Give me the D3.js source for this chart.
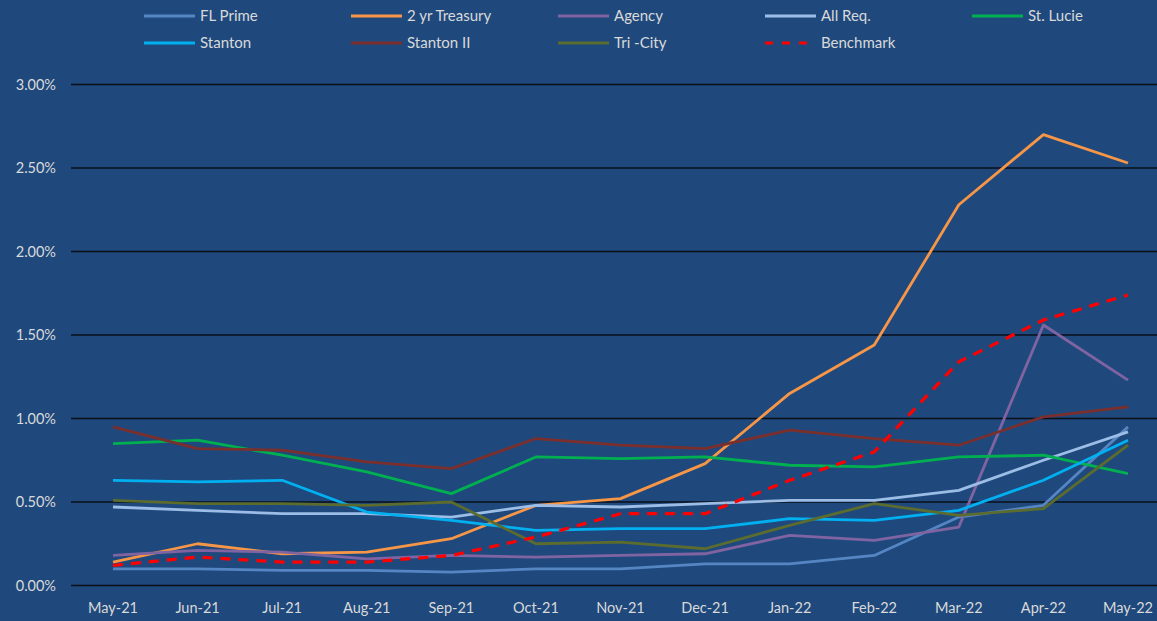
<!DOCTYPE html>
<html>
<head>
<meta charset="utf-8">
<script src="https://cdn.jsdelivr.net/npm/d3@7"></script>
<style>
  body { margin: 0; background: #1f497d; }
  svg { display: block; }
  text { font-family: Lato, "Open Sans", sans-serif; fill: #d9d9d9; }
</style>
</head>
<body>
<svg id="chart" width="1157" height="621"></svg>
<script>
// Month labels
var months = ["May-21","Jun-21","Jul-21","Aug-21","Sep-21","Oct-21","Nov-21","Dec-21","Jan-22","Feb-22","Mar-22","Apr-22","May-22"];

// Series values (percent)
var flPrime   = [0.10,0.10,0.09,0.09,0.08,0.10,0.10,0.13,0.13,0.18,0.41,0.48,0.95];
var treasury2 = [0.14,0.25,0.19,0.20,0.28,0.48,0.52,0.73,1.15,1.44,2.28,2.70,2.53];
var agency    = [0.18,0.21,0.20,0.16,0.18,0.17,0.18,0.19,0.30,0.27,0.35,1.56,1.23];
var allReq    = [0.47,0.45,0.43,0.43,0.41,0.48,0.47,0.49,0.51,0.51,0.57,0.75,0.92];
var stLucie   = [0.85,0.87,0.78,0.68,0.55,0.77,0.76,0.77,0.72,0.71,0.77,0.78,0.67];
var stanton   = [0.63,0.62,0.63,0.44,0.39,0.33,0.34,0.34,0.40,0.39,0.45,0.63,0.87];
var stanton2  = [0.95,0.82,0.81,0.74,0.70,0.88,0.84,0.82,0.93,0.88,0.84,1.01,1.07];
var triCity   = [0.51,0.49,0.49,0.48,0.50,0.25,0.26,0.22,0.36,0.49,0.42,0.46,0.84];
var benchmark = [0.12,0.17,0.14,0.14,0.18,0.29,0.43,0.43,0.63,0.80,1.34,1.59,1.74];

var yTicks = [0, 0.5, 1.0, 1.5, 2.0, 2.5, 3.0];

var series = [
  {name: "FL Prime", values: flPrime, color: "#5585c2"},
  {name: "2 yr Treasury", values: treasury2, color: "#f79646"},
  {name: "Agency", values: agency, color: "#8064a2"},
  {name: "All Req.", values: allReq, color: "#9bbde6"},
  {name: "St. Lucie", values: stLucie, color: "#00b050"},
  {name: "Stanton", values: stanton, color: "#00b0f0"},
  {name: "Stanton II", values: stanton2, color: "#7b2f2d"},
  {name: "Tri -City", values: triCity, color: "#5b6c2e"},
  {name: "Benchmark", values: benchmark, color: "#ff0000", dash: "10,8"}
];

var svg = d3.select("#chart");

// plot area runs a bit past the right edge, like the cropped original
var x = d3.scalePoint()
  .domain(months)
  .range([113, 1128]);

var y = d3.scaleLinear()
  .domain([0, 3])
  .range([585.5, 84.5]);

// gridlines
svg.append("g")
  .selectAll("line")
  .data(yTicks)
  .enter()
  .append("line")
    .attr("x1", 71)
    .attr("x2", 1170)
    .attr("y1", function(d) { return y(d); })
    .attr("y2", function(d) { return y(d); })
    .attr("stroke", "#0a0f18")
    .attr("stroke-width", 1.6);

// y axis labels
svg.append("g")
  .selectAll("text")
  .data(yTicks)
  .enter()
  .append("text")
    .attr("x", 56)
    .attr("y", function(d) { return y(d); })
    .attr("dy", "0.35em")
    .attr("text-anchor", "end")
    .style("font-size", "14.5px")
    .text(function(d) { return d.toFixed(2) + "%"; });

// x axis labels
svg.append("g")
  .selectAll("text")
  .data(months)
  .enter()
  .append("text")
    .attr("x", function(d) { return x(d); })
    .attr("y", 608)
    .attr("dy", "0.35em")
    .attr("text-anchor", "middle")
    .style("font-size", "14.5px")
    .text(function(d) { return d; });

var line = d3.line()
  .x(function(d, i) { return x(months[i]); })
  .y(function(d) { return y(d); });

// the lines
svg.append("g")
  .selectAll("path")
  .data(series)
  .enter()
  .append("path")
    .attr("d", function(d) { return line(d.values); })
    .attr("fill", "none")
    .attr("stroke", function(d) { return d.color; })
    .attr("stroke-width", function(d) { return d.dash ? 3.2 : 2.8; })
    .attr("stroke-dasharray", function(d) { return d.dash || null; })
    .attr("stroke-linejoin", "round");

// legend, two rows of five columns
var legend = svg.append("g")
  .selectAll("g")
  .data(series)
  .enter()
  .append("g")
    .attr("transform", function(d, i) {
      return "translate(" + (144 + (i % 5) * 207) + "," + (16 + Math.floor(i / 5) * 27) + ")";
    });

legend.append("line")
  .attr("x1", 0)
  .attr("x2", 51)
  .attr("stroke", function(d) { return d.color; })
  .attr("stroke-width", function(d) { return d.dash ? 3.2 : 2.8; })
  .attr("stroke-dasharray", function(d) { return d.dash ? "8,9" : null; });

legend.append("text")
  .attr("x", 56)
  .attr("dy", "0.35em")
  .style("font-size", "15px")
  .text(function(d) { return d.name; });
</script>
</body>
</html>
